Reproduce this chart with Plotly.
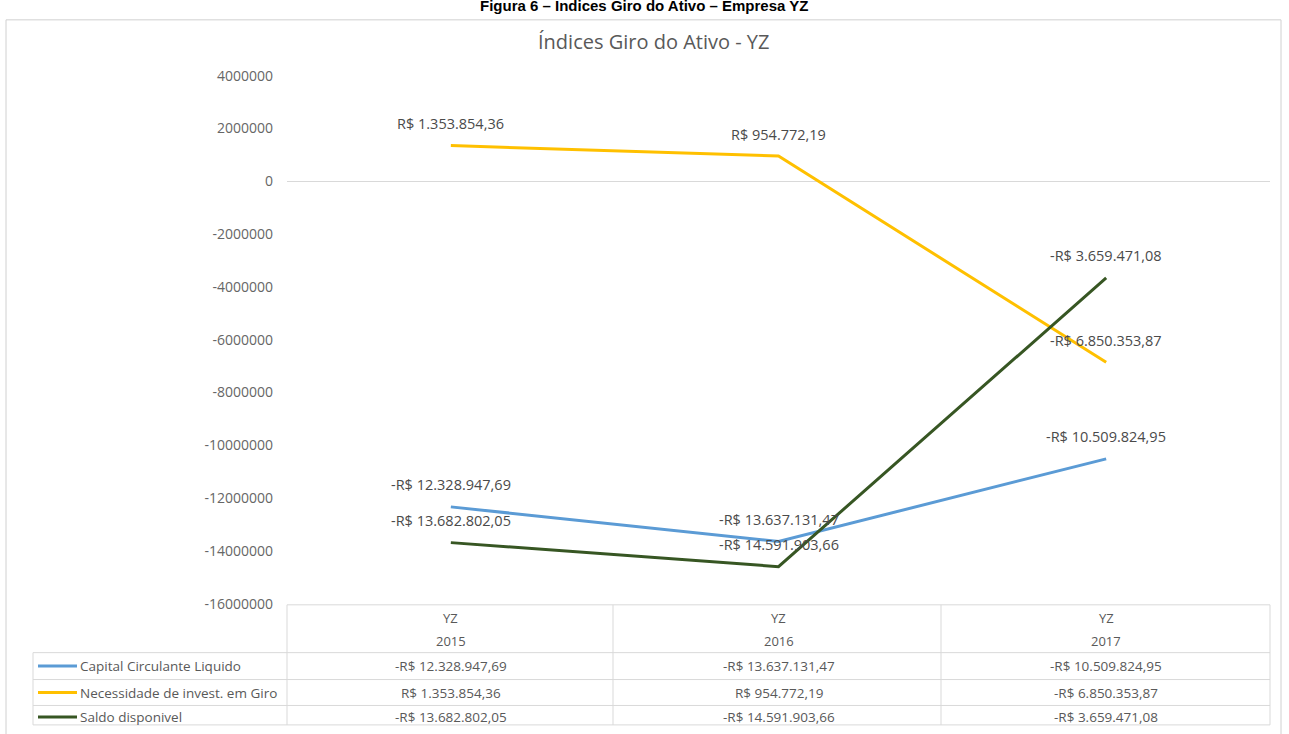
import plotly.graph_objects as go

W, H = 1289, 734

# ---------------- data ----------------
empresa = "YZ"
anos = ["2015", "2016", "2017"]
series_names = ["Capital Circulante Liquido", "Necessidade de invest. em Giro", "Saldo disponivel"]
capital_circulante = [-12328947.69, -13637131.47, -10509824.95]
necessidade_giro = [1353854.36, 954772.19, -6850353.87]
saldo_disponivel = [-13682802.05, -14591903.66, -3659471.08]
y_ticks = [4000000, 2000000, 0, -2000000, -4000000, -6000000, -8000000,
           -10000000, -12000000, -14000000, -16000000]

colors = ["#5B9BD5", "#FFC000", "#375623"]
series_values = [capital_circulante, necessidade_giro, saldo_disponivel]


def brl(v):
    s = f"{abs(v):,.2f}".replace(",", "X").replace(".", ",").replace("X", ".")
    return ("-R$ " if v < 0 else "R$ ") + s


def px(x):
    return x / W


def py(y):
    # map a target screen row to the figure's paper coordinate
    f = y / 0.9775 - 8.3
    return 1 - f / H


FONT = "Open Sans"
GRAY = "#595959"

fig = go.Figure()
xs = list(range(len(anos)))
for name, vals, c in zip(series_names, series_values, colors):
    fig.add_trace(go.Scatter(x=xs, y=vals, mode="lines", name=name,
                             line=dict(color=c, width=3), showlegend=False,
                             hoverinfo="skip"))

annotations = []
for vals in series_values:
    for i, v in enumerate(vals):
        annotations.append(dict(x=i, y=v, xref="x", yref="y", text=brl(v),
                                showarrow=False, yshift=22, yanchor="middle",
                                font=dict(family=FONT, size=14.5, color="#4a4a4a")))

annotations.append(dict(x=px(653), y=py(40), xref="paper", yref="paper",
                        text="Índices Giro do Ativo - YZ", showarrow=False,
                        xanchor="center", yanchor="middle",
                        font=dict(family=FONT, size=20, color=GRAY)))
annotations.append(dict(x=px(644), y=py(4), xref="paper", yref="paper",
                        text="<b>Figura 6 – Índices Giro do Ativo – Empresa YZ</b>",
                        showarrow=False, xanchor="center", yanchor="middle",
                        font=dict(family="Liberation Sans", size=15, color="#000000")))

for i, a in enumerate(anos):
    annotations.append(dict(x=i, y=py(618), xref="x", yref="paper", text=empresa,
                            showarrow=False, yanchor="middle",
                            font=dict(family=FONT, size=13, color=GRAY)))
    annotations.append(dict(x=i, y=py(641), xref="x", yref="paper", text=a,
                            showarrow=False, yanchor="middle",
                            font=dict(family=FONT, size=13, color=GRAY)))

row_centers = [666.5, 693, 717.5]
shapes = []
for r, (name, vals, c) in enumerate(zip(series_names, series_values, colors)):
    yc = row_centers[r]
    shapes.append(dict(type="line", xref="paper", yref="paper",
                       x0=px(38), x1=px(77), y0=py(yc), y1=py(yc),
                       line=dict(color=c, width=3)))
    annotations.append(dict(x=px(78), y=py(yc), xref="paper", yref="paper",
                            text=name, xanchor="left", yanchor="middle", showarrow=False,
                            font=dict(family=FONT, size=13.5, color=GRAY)))
    for i, v in enumerate(vals):
        annotations.append(dict(x=i, y=py(yc), xref="x", yref="paper", text=brl(v),
                                showarrow=False, yanchor="middle",
                                font=dict(family=FONT, size=13.5, color=GRAY)))

TL = "#D9D9D9"
shapes.append(dict(type="line", xref="paper", yref="paper", x0=px(287), x1=px(1270),
                   y0=py(605), y1=py(605), line=dict(color=TL, width=1)))
for yy in [653, 680, 706, 725.5]:
    shapes.append(dict(type="line", xref="paper", yref="paper", x0=px(33), x1=px(1270),
                       y0=py(yy), y1=py(yy), line=dict(color=TL, width=1)))
for xx in [287, 613, 941, 1270]:
    shapes.append(dict(type="line", xref="paper", yref="paper", x0=px(xx), x1=px(xx),
                       y0=py(605), y1=py(725.5), line=dict(color=TL, width=1)))
shapes.append(dict(type="line", xref="paper", yref="paper", x0=px(33), x1=px(33),
                   y0=py(653), y1=py(725.5), line=dict(color=TL, width=1)))
shapes.append(dict(type="rect", xref="paper", yref="paper", x0=px(6), x1=px(1281),
                   y0=py(760), y1=py(18), line=dict(color="#D0D0D0", width=1),
                   layer="below"))

fig.update_layout(
    width=W, height=H,
    margin=dict(l=0, r=0, t=0, b=0),
    paper_bgcolor="white", plot_bgcolor="white",
    xaxis=dict(domain=[px(287), px(1270)], range=[-0.5, 2.5], showgrid=False,
               zeroline=False, showticklabels=False, showline=False, fixedrange=True),
    yaxis=dict(domain=[py(604), py(74)], range=[-16000000, 4000000],
               tickvals=y_ticks, ticktext=[str(v) for v in y_ticks],
               showgrid=False, zeroline=True, zerolinecolor=TL, zerolinewidth=1,
               showline=False, ticks="", ticklabelstandoff=13,
               tickfont=dict(family=FONT, size=14, color="#666666"), fixedrange=True),
    annotations=annotations,
    shapes=shapes,
    showlegend=False,
)

fig.write_html("out.html")
